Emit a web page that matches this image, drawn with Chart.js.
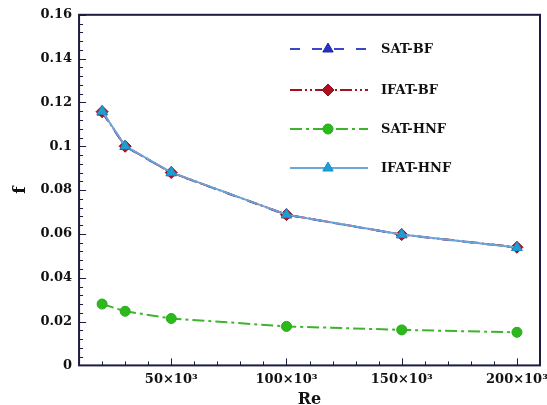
<!DOCTYPE html>
<html>
<head>
<meta charset="utf-8">
<script src="https://cdn.jsdelivr.net/npm/chart.js@4"></script>
<style>
  html, body { margin: 0; padding: 0; background: #fff; overflow: hidden; }
  #wrap { width: 547px; height: 405px; overflow: hidden; }
</style>
</head>
<body>
<div id="wrap"><canvas id="chart" width="560" height="405"></canvas></div>
<script>
// Reynolds numbers and friction factor values
const reValues = [20000, 30000, 50000, 100000, 150000, 200000]
const satBF   = [0.1156, 0.0999, 0.0879, 0.0687, 0.0596, 0.0538]
const ifatBF  = [0.1158, 0.1000, 0.0880, 0.0688, 0.0597, 0.0539]
const satHNF  = [0.0280, 0.0247, 0.0214, 0.0178, 0.0162, 0.0151]
const ifatHNF = [0.1160, 0.1001, 0.0881, 0.0688, 0.0597, 0.0538]
const seriesLabels = ['SAT-BF', 'IFAT-BF', 'SAT-HNF', 'IFAT-HNF']
const xTicks = [50000, 100000, 150000, 200000]
const yTicks = [0, 0.02, 0.04, 0.06, 0.08, 0.1, 0.12, 0.14, 0.16]

const FONT = "'DejaVu Serif', serif"
const AXIS_COLOR = '#1c1c40'

const toPoints = (ys) => reValues.map((x, i) => ({ x: x, y: ys[i] }))

function xLabel(v) {
  return (v / 1000) + '×10³'
}

// inward major/minor ticks on left and bottom axes, plus the frame
const frameTicks = {
  id: 'frameTicks',
  afterDatasetsDraw(chart) {
    const { ctx, chartArea: a, scales } = chart
    ctx.save()
    ctx.strokeStyle = AXIS_COLOR
    ctx.lineWidth = 1
    ctx.beginPath()
    for (let v = 10000; v <= 210000; v += 10000) {
      const px = Math.round(scales.x.getPixelForValue(v)) + 0.5
      const len = v % 50000 === 0 ? 7 : 4
      ctx.moveTo(px, a.bottom)
      ctx.lineTo(px, a.bottom - len)
    }
    for (let i = 0; i <= 40; i++) {
      const v = i * 0.004
      const py = Math.round(scales.y.getPixelForValue(v)) + 0.5
      const len = i % 5 === 0 ? 7 : 4
      ctx.moveTo(a.left, py)
      ctx.lineTo(a.left + len, py)
    }
    ctx.stroke()
    ctx.lineWidth = 2
    ctx.strokeRect(a.left, a.top, a.right - a.left, a.bottom - a.top)
    ctx.restore()
  }
}

// legend drawn inside the plot like the original figure
const innerLegend = {
  id: 'innerLegend',
  afterDraw(chart) {
    const { ctx } = chart
    const rows = [49, 90, 129, 168]
    const x0 = 290, x1 = 368, xm = 328, xt = 381
    ctx.save()
    chart.data.datasets.forEach((ds) => {
      const y = rows[ds.legendRow]
      ctx.strokeStyle = ds.borderColor
      ctx.lineWidth = 2
      ctx.setLineDash(ds.borderDash || [])
      ctx.beginPath()
      ctx.moveTo(x0, y)
      ctx.lineTo(x1, y)
      ctx.stroke()
      ctx.setLineDash([])
      ctx.fillStyle = ds.pointBackgroundColor
      ctx.strokeStyle = ds.pointBorderColor
      ctx.lineWidth = 1
      Chart.helpers.drawPoint(ctx, {
        pointStyle: ds.pointStyle,
        radius: ds.pointRadius,
        rotation: 0,
        borderWidth: 1
      }, xm, y)
      ctx.fillStyle = '#111'
      ctx.font = 'bold 13px ' + FONT
      ctx.textBaseline = 'middle'
      ctx.textAlign = 'left'
      ctx.fillText(ds.label, xt, y + 1)
    })
    ctx.restore()
  }
}

new Chart(document.getElementById('chart'), {
  type: 'line',
  data: {
    datasets: [
      {
        label: seriesLabels[3], legendRow: 3, order: 0,
        data: toPoints(ifatHNF),
        borderColor: '#6aa6d8', borderWidth: 2,
        pointStyle: 'triangle', pointRadius: 6, pointBorderWidth: 1,
        pointBackgroundColor: '#1d9ed6', pointBorderColor: '#1d8fc4'
      },
      {
        label: seriesLabels[2], legendRow: 2, order: 1,
        data: toPoints(satHNF),
        borderColor: '#3cb52a', borderWidth: 2, borderDash: [12, 4, 3, 4],
        pointStyle: 'circle', pointRadius: 5, pointBorderWidth: 1,
        pointBackgroundColor: '#2cb91c', pointBorderColor: '#28a81a'
      },
      {
        label: seriesLabels[1], legendRow: 1, order: 2,
        data: toPoints(ifatBF),
        borderColor: '#a5121f', borderWidth: 2, borderDash: [12, 3, 2, 3, 2, 3],
        pointStyle: 'rectRot', pointRadius: 6, pointBorderWidth: 1,
        pointBackgroundColor: '#b0101e', pointBorderColor: '#8e0c18'
      },
      {
        label: seriesLabels[0], legendRow: 0, order: 3,
        data: toPoints(satBF),
        borderColor: '#3a48c8', borderWidth: 2, borderDash: [10, 12],
        pointStyle: 'triangle', pointRadius: 6, pointBorderWidth: 1,
        pointBackgroundColor: '#2434c0', pointBorderColor: '#1c2aa0'
      }
    ]
  },
  options: {
    responsive: false,
    animation: false,
    layout: { padding: { top: 9, left: 10, right: 20, bottom: 0 } },
    plugins: {
      legend: { display: false },
      tooltip: { enabled: false }
    },
    scales: {
      x: {
        type: 'linear',
        min: 10000,
        max: 210000,
        afterBuildTicks: (scale) => { scale.ticks = xTicks.map(v => ({ value: v })) },
        grid: { display: false, drawTicks: false },
        border: { display: false },
        ticks: {
          padding: 9,
          maxRotation: 0,
          color: '#111',
          font: { family: FONT, size: 13, weight: 'bold', lineHeight: 0.8 },
          callback: (v) => xLabel(v)
        },
        title: {
          display: true, text: 'Re', color: '#111', padding: { top: 0, bottom: 0 },
          font: { family: FONT, size: 16, weight: 'bold', lineHeight: 0.7 }
        }
      },
      y: {
        min: 0,
        max: 0.16,
        afterBuildTicks: (scale) => { scale.ticks = yTicks.map(v => ({ value: v })) },
        grid: { display: false, drawTicks: false },
        border: { display: false },
        ticks: {
          padding: 7,
          color: '#111',
          font: { family: FONT, size: 13, weight: 'bold' },
          callback: (v) => String(Math.round(v * 100) / 100)
        },
        title: {
          display: true, text: 'f', color: '#111', padding: { top: 0, bottom: 3 },
          font: { family: FONT, size: 17, weight: 'bold' }
        }
      }
    }
  },
  plugins: [frameTicks, innerLegend]
})
</script>
</body>
</html>
